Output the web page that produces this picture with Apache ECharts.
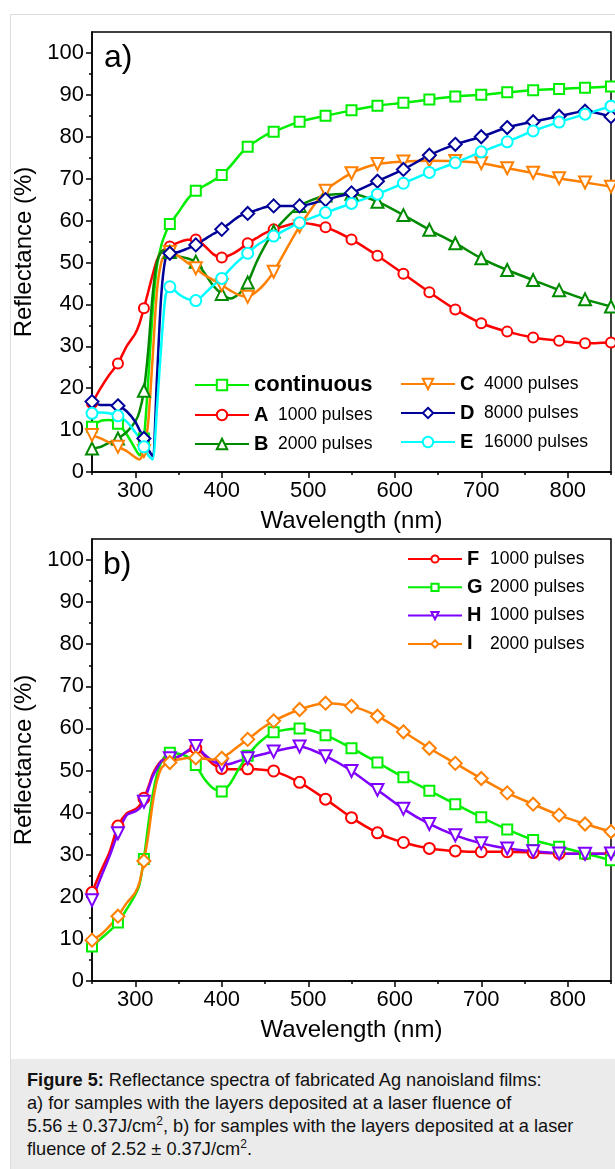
<!DOCTYPE html>
<html>
<head>
<meta charset="utf-8">
<title>Figure 5</title>
<script src="https://cdn.jsdelivr.net/npm/echarts@6/dist/echarts.min.js"></script>
<style>
  html, body { margin: 0; padding: 0; background: #fff; width: 615px; height: 1169px; overflow: hidden; }
  #frame { position: absolute; left: 10px; top: 14px; width: 620px; height: 1170px; border: 1px solid #dcdcdc; box-sizing: border-box; }
  #chart { position: absolute; left: 0; top: 0; width: 615px; height: 1059px; }
  #caption { position: absolute; left: 11px; top: 1059px; width: 604px; height: 110px; background: #ebebeb;
    box-sizing: border-box; padding: 10px 0 0 16px; font-family: 'Liberation Sans', Arial, sans-serif;
    font-size: 18.2px; line-height: 23px; color: #111; white-space: nowrap; }
  #caption sup { font-size: 12px; line-height: 0; }
</style>
</head>
<body>
<div id="frame"></div>
<div id="chart"></div>
<div id="caption"><b>Figure 5:</b> Reflectance spectra of fabricated Ag nanoisland films:<br>a) for samples with the layers deposited at a laser fluence of<br>5.56 ± 0.37J/cm<sup>2</sup>, b) for samples with the layers deposited at a laser<br>fluence of 2.52 ± 0.37J/cm<sup>2</sup>.</div>
<script>
// wavelength grid (nm), finer around the 320 nm edge
var wavelengths = [250,260,270,280,290,300,305,310,315,320,325,330,335,
  340,350,360,370,380,390,400,410,420,430,440,450,460,
  490,520,550,580,610,640,670,700,730,760,790,820,850];

// panel a) 5.56 J/cm2
var continuous = [10.8,12.2,12.4,11.5,9.0,5.5, 4.0,8.0,22,38,49,54,57,
  59.2,62,65,67.1,68.3,69.5,70.9,73,75.5,77.6,79,80.3,81.2,
  83.6,85.0,86.3,87.4,88.1,88.9,89.6,90.0,90.6,91.1,91.4,91.7,92.0];
var sampleA = [16.4,20,23.2,25.9,30,33, 35.5,39.1,43,47,50.5,52.5,53.3,
  53.8,54.8,55.4,55.5,54,52,51.2,51.8,53,54.6,55.8,57,57.9,
  59.5,58.4,55.5,51.6,47.3,42.9,38.8,35.5,33.5,32.1,31.3,30.7,30.9];
var sampleB = [5.6,6,7,8.0,9.5,12, 14.5,19.4,29,42,50,52.5,53,
  52.5,51.5,51,50.2,47.5,44.5,42.5,41.4,42.5,45.2,50,54,57.4,
  63.5,66,66.4,64.5,61.3,57.8,54.6,51.0,48.2,45.8,43.4,41.2,39.5];
var sampleC = [8.8,8,7,6.0,5,3.5, 3.0,5,12,27,43,50,52,
  52.5,51.5,50,48.6,47,45.8,44.6,43.3,42.2,41.8,43,45,47.8,
  58.6,67.1,71.3,73.5,74.1,74.3,74.2,73.7,72.5,71.4,70.1,69.1,68.1];
var sampleD = [16.8,16,16,15.8,14.5,12, 10,8.0,5.5,3.8,22,42,51,
  52.2,52.5,53.3,54.2,55.5,56.8,57.9,59.5,61,61.7,62.5,63.2,63.5,
  63.5,65,66.6,69.4,72.2,75.6,78.2,80.0,82.2,83.6,84.9,86.1,84.8];
var sampleE = [14,14.2,14,13.4,12,9.5, 8,6.0,4,3.0,15,30,42,
  44.2,42.5,41.3,40.9,42.5,44.5,46.2,48.5,50.5,52.2,54,55.3,56.3,
  59.5,61.9,64.1,66.3,68.9,71.5,73.8,76.4,78.8,81.4,83.5,85.4,87.3];

// panel b) 2.52 J/cm2
var sampleF = [21,26,30.5,36.8,39.8,40.8, 41.7,43.4,46,49,51,52.3,52.9,
  53,53.3,54.5,55.3,53.5,51.5,50.5,50.3,50.3,50.4,50.3,50.1,49.9,
  47.2,43.2,38.8,35.2,32.9,31.5,30.9,30.7,30.7,30.5,30.3,30.2,30.2];
var sampleG = [8.2,10,11.8,13.9,17,20.5, 23,29,37,44,49,52,53.5,
  54.2,54,53.3,51.3,48,45.8,45.0,47,50.5,53.5,56,57.8,59.1,
  60.0,58.4,55.3,51.9,48.4,45.2,42.0,38.9,36.0,33.5,31.9,30.3,28.7];
var sampleH = [19.2,24.5,29.5,35.1,39.4,40.3, 41,42.6,45.5,48.5,50.5,52.2,52.8,
  52.9,53.3,54.6,55.8,53.8,52.2,51.3,51.6,52.3,52.9,53.5,54,54.5,
  55.7,53.4,49.9,45.4,40.9,37.3,34.6,32.7,31.5,30.8,30.3,30.2,30.3];
var sampleI = [9.7,11,13,15.4,18.5,21, 23.5,28.5,34.5,42,47.5,50.5,51.5,
  51.9,52.6,53,53.0,52.8,52.6,52.9,54.3,55.9,57.4,59,60.5,61.8,
  64.5,66.0,65.3,62.9,59.2,55.3,51.7,48.1,44.7,42.0,39.4,37.3,35.5];

// ticks
var xMajor = [300,400,500,600,700,800];
var xMinor = [250,350,450,550,650,750,850];
var yMajor = [0,10,20,30,40,50,60,70,80,90,100];
var yMinor = [5,15,25,35,45,55,65,75,85,95];

// legend texts
var pulses = {
  A: '1000 pulses', B: '2000 pulses', C: '4000 pulses', D: '8000 pulses', E: '16000 pulses',
  F: '1000 pulses', G: '2000 pulses', H: '1000 pulses', I: '2000 pulses'
};

var FONT = "'Liberation Sans', Arial, sans-serif";
var markerStep = 30;

function pairs(ys) {
  return wavelengths.map(function (x, i) { return [x, ys[i]]; });
}

function makeSeries(name, ys, color, symbol, size, rotate, gi) {
  return {
    name: name,
    type: 'line',
    xAxisIndex: gi * 2,
    yAxisIndex: gi * 2,
    data: pairs(ys),
    smooth: 0.25,
    symbol: symbol,
    symbolRotate: rotate || 0,
    showAllSymbol: true,
    symbolSize: function (v) {
      return (v[0] - 250) % markerStep === 0 ? size : 0;
    },
    lineStyle: { color: color, width: 2.5 },
    itemStyle: { color: color, borderWidth: 2 },
    emphasis: { disabled: true }
  };
}

function axesFor(gi, nameGapX, nameGapY) {
  var x = [{
    type: 'value', gridIndex: gi, min: 250, max: 850,
    name: 'Wavelength (nm)', nameLocation: 'middle', nameGap: nameGapX,
    nameTextStyle: { fontFamily: FONT, fontSize: 24, color: '#000' },
    axisLine: { lineStyle: { color: '#000', width: 1.5 } },
    axisTick: { customValues: xMajor, length: 6, lineStyle: { color: '#000', width: 1.5 } },
    axisLabel: { customValues: xMajor, fontFamily: FONT, fontSize: 22, color: '#000', margin: 8 },
    splitLine: { show: false }
  }, {
    type: 'value', gridIndex: gi, min: 250, max: 850, position: 'bottom',
    axisLine: { show: false },
    axisTick: { customValues: xMinor, length: 3, lineStyle: { color: '#000', width: 1.5 } },
    axisLabel: { show: false },
    splitLine: { show: false }
  }];
  var y = [{
    type: 'value', gridIndex: gi, min: 0, max: 105,
    name: 'Reflectance (%)', nameLocation: 'middle', nameGap: nameGapY,
    nameTextStyle: { fontFamily: FONT, fontSize: 24, color: '#000' },
    axisLine: { lineStyle: { color: '#000', width: 1.5 } },
    axisTick: { customValues: yMajor, length: 6, lineStyle: { color: '#000', width: 1.5 } },
    axisLabel: { customValues: yMajor, fontFamily: FONT, fontSize: 22, color: '#000', margin: 8 },
    splitLine: { show: false }
  }, {
    type: 'value', gridIndex: gi, min: 0, max: 105, position: 'left',
    axisLine: { show: false },
    axisTick: { customValues: yMinor, length: 3, lineStyle: { color: '#000', width: 1.5 } },
    axisLabel: { show: false },
    splitLine: { show: false }
  }];
  return { x: x, y: y };
}

function legendFormatter(name) {
  if (name === 'continuous') return '{c|continuous}';
  return '{b|' + name + '}{n|' + pulses[name] + '}';
}

function legendFor(names, left, top, itemH, gap, letterW) {
  return {
    data: names,
    orient: 'vertical',
    left: left,
    top: top,
    padding: 0,
    itemWidth: 54,
    itemHeight: itemH,
    itemGap: gap,
    selectedMode: false,
    formatter: legendFormatter,
    textStyle: {
      color: '#000',
      rich: {
        c: { fontFamily: FONT, fontWeight: 'bold', fontSize: 22, lineHeight: 20, color: '#000' },
        b: { fontFamily: FONT, fontWeight: 'bold', fontSize: 20, lineHeight: 20, width: letterW, color: '#000' },
        n: { fontFamily: FONT, fontSize: 17.5, lineHeight: 20, color: '#000' }
      }
    }
  };
}

var axA = axesFor(0, 37, 41);
var axB = axesFor(1, 37, 41);

var chart = echarts.init(document.getElementById('chart'), null, { renderer: 'canvas' });

var option = {
  animation: false,
  grid: [
    { left: 92, top: 32, width: 519, height: 440, show: true, borderColor: '#000', borderWidth: 1.5 },
    { left: 92, top: 539, width: 519, height: 442, show: true, borderColor: '#000', borderWidth: 1.5 }
  ],
  xAxis: axA.x.concat(axB.x),
  yAxis: axA.y.concat(axB.y),
  legend: [
    legendFor(['continuous', 'A', 'B'], 194, 374, 13, 9, 24),
    legendFor(['C', 'D', 'E'], 400, 374, 13, 9, 24),
    legendFor(['F', 'G', 'H', 'I'], 407, 549, 9, 8.3, 23)
  ],
  graphic: [
    { type: 'text', left: 104, top: 42, style: { text: 'a)', fontFamily: FONT, fontSize: 32, fill: '#000' } },
    { type: 'text', left: 103, top: 549, style: { text: 'b)', fontFamily: FONT, fontSize: 32, fill: '#000' } }
  ],
  series: [
    makeSeries('continuous', continuous, '#00ee00', 'emptyRect', 10, 0, 0),
    makeSeries('A', sampleA, '#ff0000', 'emptyCircle', 10, 0, 0),
    makeSeries('B', sampleB, '#008a00', 'emptyTriangle', 12, 0, 0),
    makeSeries('C', sampleC, '#ff8000', 'emptyTriangle', 12, 180, 0),
    makeSeries('D', sampleD, '#000099', 'emptyDiamond', 13, 0, 0),
    makeSeries('E', sampleE, '#00ffff', 'emptyCircle', 11, 0, 0),

    makeSeries('F', sampleF, '#ff0000', 'emptyCircle', 11, 0, 1),
    makeSeries('G', sampleG, '#00ee00', 'emptyRect', 10, 0, 1),
    makeSeries('H', sampleH, '#7f00ff', 'emptyTriangle', 12, 180, 1),
    makeSeries('I', sampleI, '#ff8000', 'emptyDiamond', 13, 0, 1)
  ]
};

chart.setOption(option);
</script>
</body>
</html>
